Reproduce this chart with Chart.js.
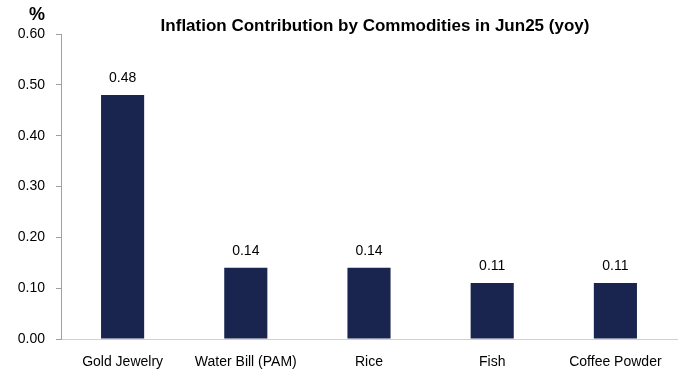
<!DOCTYPE html>
<html>
<head>
<meta charset="utf-8">
<script src="https://cdn.jsdelivr.net/npm/chart.js@4.4.1/dist/chart.umd.min.js"></script>
<style>
  html, body { margin: 0; padding: 0; background: #fff; }
  #wrap { width: 693px; height: 376px; }
</style>
</head>
<body>
<div id="wrap"><canvas id="myChart"></canvas></div>
<script>
// contribution to yoy inflation, percentage points
const commodities = ['Gold Jewelry', 'Water Bill (PAM)', 'Rice', 'Fish', 'Coffee Powder'];
const contribution = [0.48, 0.14, 0.14, 0.11, 0.11];
const yTicks = [0, 0.1, 0.2, 0.3, 0.4, 0.5, 0.6];

const chartTitle = 'Inflation Contribution by Commodities in Jun25 (yoy)';
const FONT = "'Liberation Sans', Arial, sans-serif";

// title, unit label and value labels drawn straight on the canvas
const extras = {
  id: 'extras',
  afterDatasetsDraw(chart) {
    const ctx = chart.ctx;
    ctx.save();
    ctx.fillStyle = '#000';
    ctx.textAlign = 'center';
    ctx.textBaseline = 'alphabetic';
    ctx.font = 'bold 17px ' + FONT;
    ctx.fillText(chartTitle, 375, 31);
    ctx.font = 'bold 18px ' + FONT;
    ctx.fillText('%', 37, 20);

    ctx.font = '14px ' + FONT;
    let meta = chart.getDatasetMeta(0);
    meta.data.forEach((bar, i) => {
      ctx.fillText(contribution[i].toFixed(2), bar.x, bar.y - 13);
    });
    ctx.restore();
  }
};

var ctx = document.getElementById('myChart').getContext('2d');
var chart = new Chart(ctx, {
  type: 'bar',
  data: {
    labels: commodities,
    datasets: [{
      data: contribution,
      backgroundColor: '#19244f',
      borderWidth: 0,
      barPercentage: 0.35,
      categoryPercentage: 1
    }]
  },
  plugins: [extras],
  options: {
    responsive: true,
    maintainAspectRatio: false,
    animation: false,
    layout: { padding: { top: 34, right: 16, bottom: 0, left: 0 } },
    plugins: {
      legend: { display: false },
      title: { display: false },
      tooltip: { enabled: false }
    },
    scales: {
      x: {
        afterFit(axis) { axis.height = 37; },
        grid: { display: false },
        border: { display: true, color: '#d0d0d0', width: 1 },
        ticks: { color: '#000', font: { family: FONT, size: 14 }, padding: 7, maxRotation: 0, autoSkip: false }
      },
      y: {
        min: 0,
        max: 0.6,
        afterFit(axis) { axis.width = 61; },
        afterBuildTicks(axis) { axis.ticks = yTicks.map(v => ({ value: v })); },
        grid: { drawOnChartArea: false, drawTicks: true, tickLength: 5, color: '#a0a0a0' },
        border: { display: true, color: '#a0a0a0', width: 1 },
        ticks: {
          color: '#000',
          padding: 11,
          font: { family: FONT, size: 14 },
          callback: (v) => Number(v).toFixed(2)
        }
      }
    }
  }
});
</script>
</body>
</html>
